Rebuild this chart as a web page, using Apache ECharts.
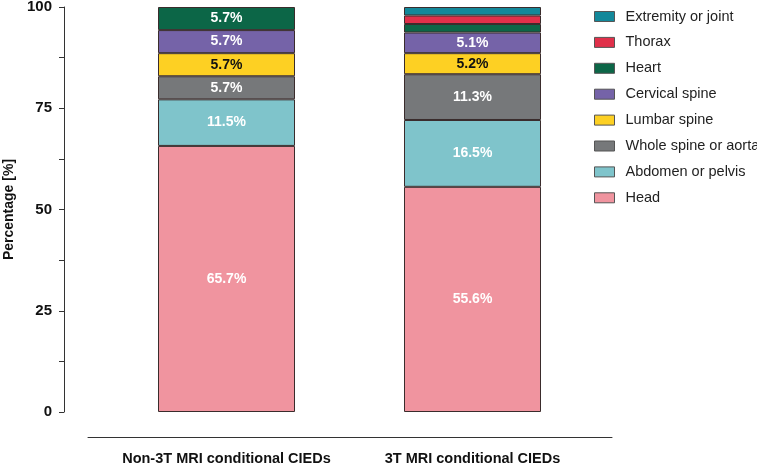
<!DOCTYPE html>
<html>
<head>
<meta charset="utf-8">
<script src="https://cdn.jsdelivr.net/npm/echarts@6/dist/echarts.min.js"></script>
<style>
  html, body { margin: 0; padding: 0; background: #fff; }
  #main { width: 757px; height: 468px; }
</style>
</head>
<body>
<div id="main"></div>
<script>
// categories and values (percent)
const categories = ['Non-3T MRI conditional CIEDs', '3T MRI conditional CIEDs'];
const regions = ['Head', 'Abdomen or pelvis', 'Whole spine or aorta', 'Lumbar spine',
                 'Cervical spine', 'Heart', 'Thorax', 'Extremity or joint'];
const head      = [65.7, 55.6];
const abdomen   = [11.5, 16.5];
const wholeSpine = [5.7, 11.3];
const lumbar    = [5.7, 5.2];
const cervical  = [5.7, 5.1];
const heart     = [5.7, 2.1];
const thorax    = [0, 2.1];
const extremity = [0, 2.1];
const yTicks = [0, 25, 50, 75, 100];

const values = [head, abdomen, wholeSpine, lumbar, cervical, heart, thorax, extremity];
const colors = ['#F0949F', '#7FC4CB', '#76787A', '#FDD023', '#7563A8', '#0C6647', '#E0304A', '#13889A'];
const font = '"Liberation Sans", Arial, Helvetica, sans-serif';

let myChart = echarts.init(document.getElementById('main'));

let series = regions.map(function (name, i) {
    return {
        name: name,
        type: 'bar',
        stack: 'total',
        barWidth: 137,
        xAxisIndex: 0,
        yAxisIndex: 0,
        itemStyle: { color: colors[i], borderColor: '#3a2c2c', borderWidth: 1 },
        label: {
            show: true,
            position: 'inside',
            fontFamily: font,
            fontSize: 14,
            fontWeight: 'bold',
            color: name === 'Lumbar spine' ? '#111' : '#fff',
            formatter: function (p) { return p.value >= 5 ? p.value.toFixed(1) + '%' : ''; }
        },
        data: values[i].map(function (v) { return v > 0 ? v : null; })
    };
});

let option = {
    animation: false,
    legend: {
        orient: 'vertical',
        left: 589,
        top: 4,
        itemWidth: 20,
        itemHeight: 10,
        itemGap: 10.9,
        icon: 'rect',
        itemStyle: { borderColor: '#555', borderWidth: 1 },
        textStyle: { fontFamily: font, fontSize: 14.5, color: '#222', padding: [0, 0, 0, 6] },
        data: regions.slice().reverse()
    },
    grid: [
        { left: 103.5, width: 492, top: 7, bottom: 56, outerBoundsMode: 'none' },
        { left: 88, right: 145, top: 7, bottom: 56, outerBoundsMode: 'none' }
    ],
    xAxis: [
        {
            type: 'category',
            gridIndex: 0,
            data: categories,
            axisLine: { show: false },
            axisTick: { show: false },
            axisLabel: { interval: 0, margin: 39, fontFamily: font, fontSize: 14.5, fontWeight: 'bold', color: '#111' }
        },
        {
            type: 'category',
            gridIndex: 1,
            data: categories,
            offset: 25,
            axisLine: { show: true, onZero: false, lineStyle: { color: '#333', width: 1 } },
            axisTick: { show: false },
            axisLabel: { show: false }
        }
    ],
    yAxis: [
        {
            type: 'value',
            gridIndex: 0,
            min: yTicks[0],
            max: yTicks[yTicks.length - 1],
            interval: 25,
            offset: 39.5,
            name: 'Percentage [%]',
            nameLocation: 'middle',
            nameGap: 44,
            nameTextStyle: { fontFamily: font, fontSize: 14, fontWeight: 'bold', color: '#111' },
            axisLine: { show: true, lineStyle: { color: '#333', width: 1 } },
            axisTick: { show: true, length: 5, lineStyle: { color: '#333' } },
            minorTick: { show: true, splitNumber: 2, length: 5, lineStyle: { color: '#333' } },
            splitLine: { show: false },
            axisLabel: { margin: 12, fontFamily: font, fontSize: 15, fontWeight: 'bold', color: '#111' }
        },
        {
            type: 'value',
            gridIndex: 1,
            show: false
        }
    ],
    series: series
};

myChart.setOption(option);
</script>
</body>
</html>
